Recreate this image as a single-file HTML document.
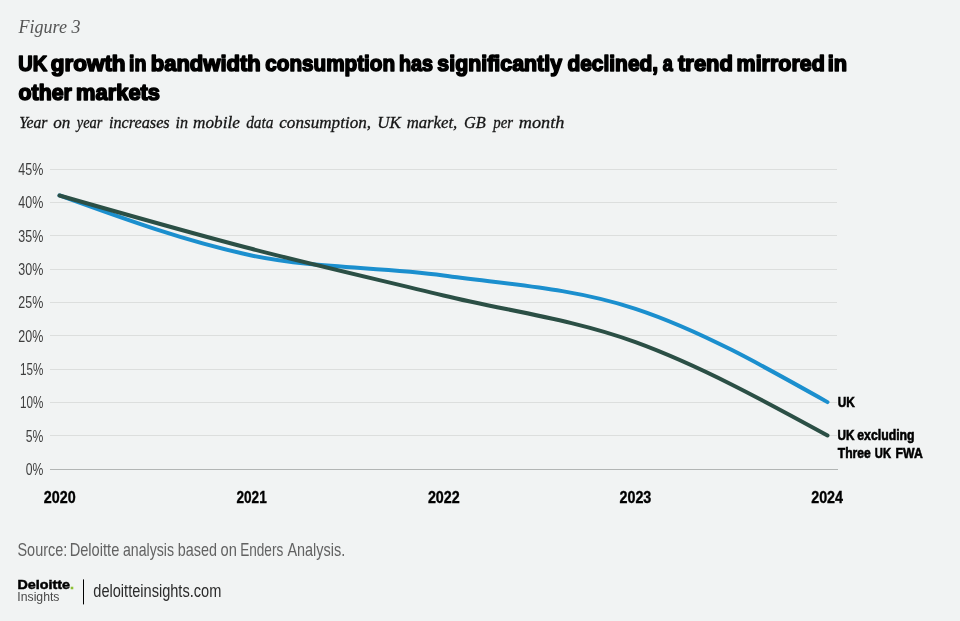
<!DOCTYPE html>
<html lang="en"><head><meta charset="utf-8"><title>Figure 3</title>
<style>
html,body{margin:0;padding:0;background:#f1f3f3;}
body{width:960px;height:621px;overflow:hidden;font-family:"Liberation Sans",sans-serif;}
svg{display:block;position:absolute;left:0;top:0}
.serif{font-family:"Liberation Serif",serif;font-style:italic}
.sans{font-family:"Liberation Sans",sans-serif}
</style></head><body>
<svg width="960" height="621" viewBox="0 0 960 621">
<rect width="960" height="621" fill="#f1f3f3"/>
<g class="serif">
<text x="18.5" y="33" font-size="18" fill="#555" textLength="62" lengthAdjust="spacingAndGlyphs">Figure 3</text>
<text y="127.5" font-size="16.8" fill="#151515" stroke="#151515" stroke-width="0.3"><tspan x="19.19" textLength="28.27" lengthAdjust="spacingAndGlyphs">Year</tspan> <tspan x="53.32" textLength="17.11" lengthAdjust="spacingAndGlyphs">on</tspan> <tspan x="76.83" textLength="25.53" lengthAdjust="spacingAndGlyphs">year</tspan> <tspan x="108.91" textLength="60.80" lengthAdjust="spacingAndGlyphs">increases</tspan> <tspan x="175.60" textLength="12.56" lengthAdjust="spacingAndGlyphs">in</tspan> <tspan x="193.04" textLength="46.91" lengthAdjust="spacingAndGlyphs">mobile</tspan> <tspan x="246.18" textLength="27.38" lengthAdjust="spacingAndGlyphs">data</tspan> <tspan x="279.26" textLength="91.83" lengthAdjust="spacingAndGlyphs">consumption,</tspan> <tspan x="377.30" textLength="23.61" lengthAdjust="spacingAndGlyphs">UK</tspan> <tspan x="406.64" textLength="50.68" lengthAdjust="spacingAndGlyphs">market,</tspan> <tspan x="463.97" textLength="21.79" lengthAdjust="spacingAndGlyphs">GB</tspan> <tspan x="493.32" textLength="19.80" lengthAdjust="spacingAndGlyphs">per</tspan> <tspan x="518.81" textLength="45.66" lengthAdjust="spacingAndGlyphs">month</tspan></text>
</g>
<g class="sans" font-weight="bold" font-size="22.3" fill="#000" stroke="#000" stroke-width="1.6" stroke-linejoin="round">
<text y="71.1"><tspan x="18.34" textLength="28.92" lengthAdjust="spacingAndGlyphs">UK</tspan> <tspan x="50.72" textLength="74.87" lengthAdjust="spacingAndGlyphs">growth</tspan> <tspan x="129.07" textLength="17.39" lengthAdjust="spacingAndGlyphs">in</tspan> <tspan x="150.69" textLength="110.08" lengthAdjust="spacingAndGlyphs">bandwidth</tspan> <tspan x="265.27" textLength="129.83" lengthAdjust="spacingAndGlyphs">consumption</tspan> <tspan x="398.93" textLength="34.07" lengthAdjust="spacingAndGlyphs">has</tspan> <tspan x="437.35" textLength="124.68" lengthAdjust="spacingAndGlyphs">significantly</tspan> <tspan x="567.39" textLength="90.76" lengthAdjust="spacingAndGlyphs">declined,</tspan> <tspan x="662.76" textLength="10.00" lengthAdjust="spacingAndGlyphs">a</tspan> <tspan x="678.06" textLength="54.89" lengthAdjust="spacingAndGlyphs">trend</tspan> <tspan x="736.57" textLength="88.25" lengthAdjust="spacingAndGlyphs">mirrored</tspan> <tspan x="827.84" textLength="19.34" lengthAdjust="spacingAndGlyphs">in</tspan></text>
<text y="99.8"><tspan x="18.56" textLength="53.36" lengthAdjust="spacingAndGlyphs">other</tspan> <tspan x="76.10" textLength="83.90" lengthAdjust="spacingAndGlyphs">markets</tspan></text>
</g>
<g>
<line x1="50" x2="838" y1="469.5" y2="469.5" stroke="#b2b5b4" stroke-width="1"/>
<line x1="50" x2="837" y1="435.5" y2="435.5" stroke="#dcdedd" stroke-width="1"/>
<line x1="50" x2="837" y1="402.5" y2="402.5" stroke="#dcdedd" stroke-width="1"/>
<line x1="50" x2="837" y1="369.5" y2="369.5" stroke="#dcdedd" stroke-width="1"/>
<line x1="50" x2="837" y1="335.5" y2="335.5" stroke="#dcdedd" stroke-width="1"/>
<line x1="50" x2="837" y1="302.5" y2="302.5" stroke="#dcdedd" stroke-width="1"/>
<line x1="50" x2="837" y1="269.5" y2="269.5" stroke="#dcdedd" stroke-width="1"/>
<line x1="50" x2="837" y1="235.5" y2="235.5" stroke="#dcdedd" stroke-width="1"/>
<line x1="50" x2="837" y1="202.5" y2="202.5" stroke="#dcdedd" stroke-width="1"/>
<line x1="50" x2="837" y1="169.5" y2="169.5" stroke="#dcdedd" stroke-width="1"/>
</g>
<g class="sans" font-size="16.3" fill="#3e3e3e">
<text x="43.3" y="475.10" text-anchor="end" textLength="17.6" lengthAdjust="spacingAndGlyphs">0%</text>
<text x="43.3" y="441.77" text-anchor="end" textLength="17.6" lengthAdjust="spacingAndGlyphs">5%</text>
<text x="43.3" y="408.43" text-anchor="end" textLength="23.4" lengthAdjust="spacingAndGlyphs">10%</text>
<text x="43.3" y="375.10" text-anchor="end" textLength="23.4" lengthAdjust="spacingAndGlyphs">15%</text>
<text x="43.3" y="341.77" text-anchor="end" textLength="25" lengthAdjust="spacingAndGlyphs">20%</text>
<text x="43.3" y="308.43" text-anchor="end" textLength="25" lengthAdjust="spacingAndGlyphs">25%</text>
<text x="43.3" y="275.10" text-anchor="end" textLength="25" lengthAdjust="spacingAndGlyphs">30%</text>
<text x="43.3" y="241.77" text-anchor="end" textLength="25" lengthAdjust="spacingAndGlyphs">35%</text>
<text x="43.3" y="208.43" text-anchor="end" textLength="25" lengthAdjust="spacingAndGlyphs">40%</text>
<text x="43.3" y="175.10" text-anchor="end" textLength="25" lengthAdjust="spacingAndGlyphs">45%</text>
</g>
<path d="M59.50,195.47C123.50,218.80,187.50,242.13,251.50,255.47C315.50,268.80,379.50,266.58,443.50,275.47C507.50,284.36,571.50,287.69,635.50,308.80C699.50,329.91,763.50,366.02,827.50,402.13" fill="none" stroke="#1b8fce" stroke-width="4" stroke-linecap="round" stroke-linejoin="round"/>
<path d="M59.50,195.47C123.50,213.80,187.50,232.13,251.50,248.80C315.50,265.47,379.50,279.91,443.50,295.47C507.50,311.02,571.50,318.80,635.50,342.13C699.50,365.47,763.50,400.47,827.50,435.47" fill="none" stroke="#2b4f45" stroke-width="4" stroke-linecap="round" stroke-linejoin="round"/>
<g class="sans" font-weight="bold" font-size="16" fill="#000" stroke="#000" stroke-width="0.35">
<text x="59.7" y="503.3" text-anchor="middle" textLength="31.8" lengthAdjust="spacingAndGlyphs">2020</text>
<text x="251.6" y="503.3" text-anchor="middle" textLength="30.2" lengthAdjust="spacingAndGlyphs">2021</text>
<text x="443.8" y="503.3" text-anchor="middle" textLength="31.8" lengthAdjust="spacingAndGlyphs">2022</text>
<text x="635.4" y="503.3" text-anchor="middle" textLength="31.8" lengthAdjust="spacingAndGlyphs">2023</text>
<text x="827.1" y="503.3" text-anchor="middle" textLength="31.8" lengthAdjust="spacingAndGlyphs">2024</text>
</g>
<g class="sans" font-weight="bold" font-size="14.8" fill="#000" stroke="#000" stroke-width="0.6">
<text y="406.7"><tspan x="837.70" textLength="17.10" lengthAdjust="spacingAndGlyphs">UK</tspan></text>
<text y="439.7"><tspan x="837.50" textLength="17.00" lengthAdjust="spacingAndGlyphs">UK</tspan> <tspan x="857.30" textLength="57.30" lengthAdjust="spacingAndGlyphs">excluding</tspan></text>
<text y="457.8"><tspan x="837.80" textLength="33.00" lengthAdjust="spacingAndGlyphs">Three</tspan> <tspan x="874.80" textLength="16.20" lengthAdjust="spacingAndGlyphs">UK</tspan> <tspan x="895.60" textLength="27.10" lengthAdjust="spacingAndGlyphs">FWA</tspan></text>
</g>
<text class="sans" y="556.2" font-size="17.8" fill="#626262"><tspan x="17.49" textLength="49.80" lengthAdjust="spacingAndGlyphs">Source:</tspan> <tspan x="69.64" textLength="49.70" lengthAdjust="spacingAndGlyphs">Deloitte</tspan> <tspan x="122.97" textLength="51.00" lengthAdjust="spacingAndGlyphs">analysis</tspan> <tspan x="177.79" textLength="39.11" lengthAdjust="spacingAndGlyphs">based</tspan> <tspan x="220.58" textLength="16.32" lengthAdjust="spacingAndGlyphs">on</tspan> <tspan x="240.18" textLength="43.07" lengthAdjust="spacingAndGlyphs">Enders</tspan> <tspan x="287.41" textLength="57.81" lengthAdjust="spacingAndGlyphs">Analysis.</tspan></text>
<g class="sans">
<text x="17.4" y="589" font-size="13.4" font-weight="bold" fill="#000" stroke="#000" stroke-width="0.5" textLength="56.6" lengthAdjust="spacingAndGlyphs">Deloitte<tspan fill="#8cc034" stroke="#8cc034">.</tspan></text>
<text x="17.3" y="601.3" font-size="13.6" fill="#484848" textLength="42.2" lengthAdjust="spacingAndGlyphs">Insights</text>
<rect x="83" y="579.4" width="1" height="25" fill="#000"/>
<text x="93.3" y="596.7" font-size="17.5" fill="#2a2a2a" textLength="128" lengthAdjust="spacingAndGlyphs">deloitteinsights.com</text>
</g>
</svg>
</body></html>
